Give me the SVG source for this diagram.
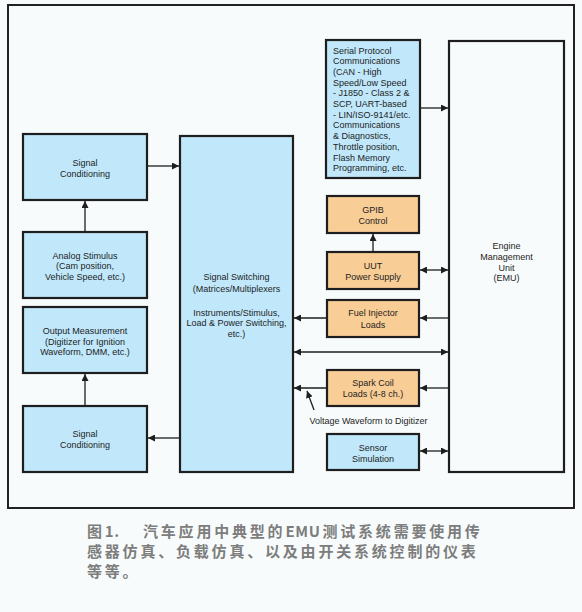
<svg xmlns="http://www.w3.org/2000/svg" width="582" height="612" viewBox="0 0 582 612">
<defs>
<style>
.bg{fill:#f7fbfb}
.frame{fill:none;stroke:#222;stroke-width:2}
.blue{fill:#c0e7fa;stroke:#1e1e1e;stroke-width:2.2}
.orange{fill:#f9cd96;stroke:#1e1e1e;stroke-width:2.2}
.white{fill:#f7fbfb;stroke:#1e1e1e;stroke-width:2.2}
text{font-family:"Liberation Sans",Arial,sans-serif;font-size:9px;fill:#1e1e1e}
.c{text-anchor:middle}
.cap{font-family:"Noto Sans CJK SC",sans-serif;font-size:15px;font-weight:bold;fill:#7d7d7d;letter-spacing:2.8px}
.lat{letter-spacing:0.6px}
.ln{stroke:#1e1e1e;stroke-width:1.3;fill:none}
</style>
<marker id="ah" viewBox="0 0 10 10" refX="10" refY="5" markerWidth="7" markerHeight="7" markerUnits="userSpaceOnUse" orient="auto-start-reverse">
<path d="M0,0 L10,5 L0,10 z" fill="#1e1e1e"/>
</marker>
</defs>
<rect class="bg" x="0" y="0" width="582" height="612"/>
<rect class="frame" x="8" y="5" width="566" height="503"/>

<g id="sigcond-top"><rect class="blue" x="23" y="134" width="124" height="66"/>
<text class="c" x="85" y="165.5">Signal</text><text class="c" x="85" y="176.5">Conditioning</text></g>

<g id="analog-stimulus"><rect class="blue" x="23" y="232" width="124" height="66"/>
<text class="c" x="85" y="258.5">Analog Stimulus</text><text class="c" x="85" y="269">(Cam position,</text><text class="c" x="85" y="279.5">Vehicle Speed, etc.)</text></g>

<g id="output-measurement"><rect class="blue" x="23" y="307" width="124" height="66"/>
<text class="c" x="85" y="333.5">Output Measurement</text><text class="c" x="85" y="344.5">(Digitizer for Ignition</text><text class="c" x="85" y="355">Waveform, DMM, etc.)</text></g>

<g id="sigcond-bottom"><rect class="blue" x="23" y="406" width="124" height="66"/>
<text class="c" x="85" y="436.5">Signal</text><text class="c" x="85" y="447.5">Conditioning</text></g>

<g id="signal-switching"><rect class="blue" x="180" y="136" width="113" height="336"/>
<text class="c" x="236.5" y="279.5">Signal Switching</text><text class="c" x="236.5" y="291.5">(Matrices/Multiplexers</text><text class="c" x="236.5" y="315.5">Instruments/Stimulus,</text><text class="c" x="236.5" y="326">Load &amp; Power Switching,</text><text class="c" x="236.5" y="336.5">etc.)</text></g>

<g id="serial-protocol"><rect class="blue" x="326" y="40" width="94" height="138"/>
<text x="333" y="53.5">Serial Protocol</text>
<text x="333" y="64.2">Communications</text>
<text x="333" y="74.9">(CAN - High</text>
<text x="333" y="85.6">Speed/Low Speed</text>
<text x="333" y="96.3">- J1850 - Class 2 &amp;</text>
<text x="333" y="107">SCP, UART-based</text>
<text x="333" y="117.7">- LIN/ISO-9141/etc.</text>
<text x="333" y="128.4">Communications</text>
<text x="333" y="139.1">&amp; Diagnostics,</text>
<text x="333" y="149.8">Throttle position,</text>
<text x="333" y="160.5">Flash Memory</text>
<text x="333" y="171.2">Programming, etc.</text></g>

<g id="gpib"><rect class="orange" x="327" y="196" width="92" height="37"/>
<text class="c" x="373" y="212.5">GPIB</text><text class="c" x="373" y="223.5">Control</text></g>

<g id="uut-power"><rect class="orange" x="327" y="252" width="92" height="37"/>
<text class="c" x="373" y="268.5">UUT</text><text class="c" x="373" y="279.5">Power Supply</text></g>

<g id="fuel-injector"><rect class="orange" x="327" y="300" width="92" height="37"/>
<text class="c" x="373" y="316">Fuel Injector</text><text class="c" x="373" y="327.5">Loads</text></g>

<g id="spark-coil"><rect class="orange" x="327" y="370" width="92" height="36"/>
<text class="c" x="373" y="386.3">Spark Coil</text><text class="c" x="373" y="397.3">Loads (4-8 ch.)</text></g>

<g id="sensor-simulation"><rect class="blue" x="327" y="434" width="92" height="36"/>
<text class="c" x="373" y="450.5">Sensor</text><text class="c" x="373" y="462">Simulation</text></g>

<g id="emu"><rect class="white" x="449" y="41" width="115" height="431"/>
<text class="c" x="506.5" y="248.5">Engine</text><text class="c" x="506.5" y="259.5">Management</text><text class="c" x="506.5" y="270.5">Unit</text><text class="c" x="506.5" y="281">(EMU)</text></g>

<g id="connectors">
<line class="ln" x1="147" y1="166" x2="179" y2="166" marker-end="url(#ah)"/>
<line class="ln" x1="85" y1="232" x2="85" y2="201" marker-end="url(#ah)"/>
<line class="ln" x1="85" y1="406" x2="85" y2="374" marker-end="url(#ah)"/>
<line class="ln" x1="180" y1="438" x2="148" y2="438" marker-end="url(#ah)"/>
<line class="ln" x1="420" y1="108" x2="448" y2="108" marker-end="url(#ah)"/>
<line class="ln" x1="373" y1="252" x2="373" y2="234" marker-end="url(#ah)"/>
<line class="ln" x1="420" y1="270" x2="448" y2="270" marker-start="url(#ah)" marker-end="url(#ah)"/>
<line class="ln" x1="449" y1="318" x2="420" y2="318" marker-end="url(#ah)"/>
<line class="ln" x1="327" y1="318" x2="294" y2="318" marker-end="url(#ah)"/>
<line class="ln" x1="294" y1="352" x2="448" y2="352" marker-start="url(#ah)" marker-end="url(#ah)"/>
<line class="ln" x1="327" y1="388" x2="294" y2="388" marker-end="url(#ah)"/>
<line class="ln" x1="449" y1="388" x2="420" y2="388" marker-end="url(#ah)"/>
<line class="ln" x1="420" y1="451" x2="448" y2="451" marker-start="url(#ah)" marker-end="url(#ah)"/>
<line class="ln" x1="314" y1="410" x2="307" y2="391" marker-end="url(#ah)"/>
<text class="c" x="368.5" y="423.5">Voltage Waveform to Digitizer</text>
</g>

<g id="caption">
<text class="cap" x="87" y="537">图<tspan class="lat">1.</tspan><tspan x="143">汽车应用中典型的</tspan><tspan class="lat">EMU</tspan><tspan dx="2">测试系统需要使用传</tspan></text>
<text class="cap" x="87" y="557">感器仿真、负载仿真、以及由开关系统控制的仪表</text>
<text class="cap" x="87" y="577">等等。</text>
</g>
</svg>
